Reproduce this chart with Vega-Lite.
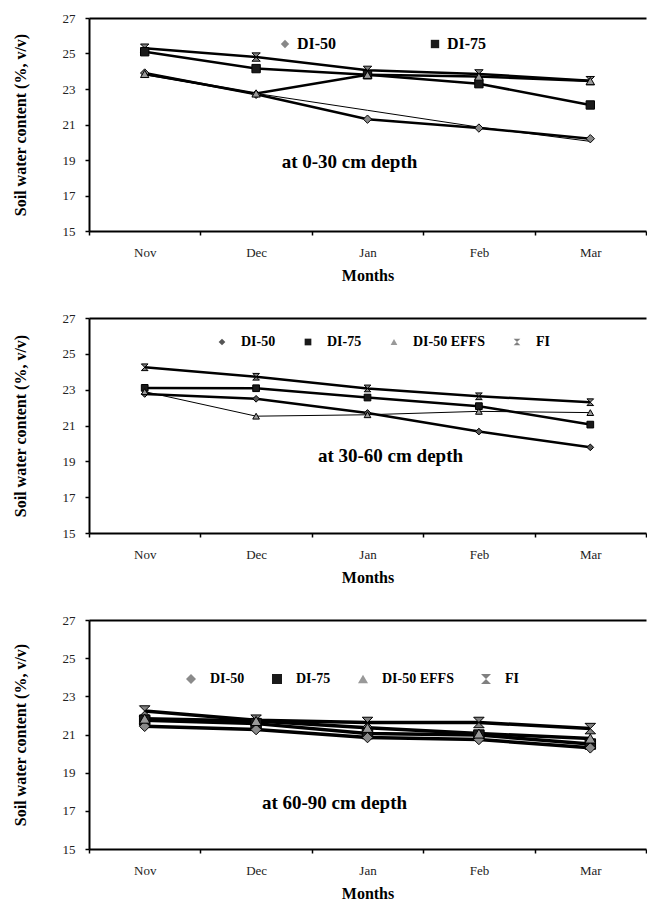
{
  "$schema": "https://vega.github.io/schema/vega-lite/v6.json",
  "padding": {"left": 12, "top": 12, "right": 0, "bottom": 0},
  "config": {
    "font": "Liberation Serif",
    "view": {"stroke": null},
    "axis": {
      "grid": false,
      "domainColor": "black",
      "domainWidth": 2,
      "tickColor": "black",
      "tickWidth": 1.5,
      "tickSize": 4,
      "labelFont": "Liberation Serif",
      "labelFontSize": 13,
      "labelColor": "#222222",
      "labelOverlap": false,
      "labelFlush": false,
      "titleFont": "Liberation Serif",
      "titleFontSize": 16,
      "titleFontWeight": "bold",
      "titleColor": "black"
    },
    "axisX": {"labelAngle": 0, "tickBand": "extent", "labelPadding": 11, "titlePadding": 8},
    "axisY": {"labelPadding": 10, "titlePadding": 34},
    "legend": {
      "labelFont": "Liberation Serif",
      "labelFontWeight": "bold",
      "labelColor": "black",
      "symbolStrokeColor": "black",
      "symbolStrokeWidth": 1
    }
  },
  "datasets": {
    "p1": [
      {"month": "Nov", "series": "FI", "value": 25.3},
      {"month": "Dec", "series": "FI", "value": 24.8},
      {"month": "Jan", "series": "FI", "value": 24.05},
      {"month": "Feb", "series": "FI", "value": 23.85},
      {"month": "Mar", "series": "FI", "value": 23.47},
      {"month": "Nov", "series": "DI-75", "value": 25.1},
      {"month": "Dec", "series": "DI-75", "value": 24.15},
      {"month": "Jan", "series": "DI-75", "value": 23.8},
      {"month": "Feb", "series": "DI-75", "value": 23.3},
      {"month": "Mar", "series": "DI-75", "value": 22.1},
      {"month": "Nov", "series": "DI-50", "value": 23.9},
      {"month": "Dec", "series": "DI-50", "value": 22.7},
      {"month": "Jan", "series": "DI-50", "value": 21.3},
      {"month": "Feb", "series": "DI-50", "value": 20.8},
      {"month": "Mar", "series": "DI-50", "value": 20.2},
      {"month": "Nov", "series": "DI-50 EFFS", "value": 23.85},
      {"month": "Dec", "series": "DI-50 EFFS", "value": 22.75},
      {"month": "Jan", "series": "DI-50 EFFS", "value": 23.8},
      {"month": "Feb", "series": "DI-50 EFFS", "value": 23.7},
      {"month": "Mar", "series": "DI-50 EFFS", "value": 23.45},
      {"month": "Nov", "series": "thin", "value": 23.8},
      {"month": "Dec", "series": "thin", "value": 22.75},
      {"month": "Jan", "series": "thin", "value": 21.8},
      {"month": "Feb", "series": "thin", "value": 20.85},
      {"month": "Mar", "series": "thin", "value": 20.05}
    ],
    "p2": [
      {"month": "Nov", "series": "FI", "value": 24.25},
      {"month": "Dec", "series": "FI", "value": 23.72},
      {"month": "Jan", "series": "FI", "value": 23.07},
      {"month": "Feb", "series": "FI", "value": 22.63},
      {"month": "Mar", "series": "FI", "value": 22.3},
      {"month": "Nov", "series": "DI-75", "value": 23.1},
      {"month": "Dec", "series": "DI-75", "value": 23.08},
      {"month": "Jan", "series": "DI-75", "value": 22.56},
      {"month": "Feb", "series": "DI-75", "value": 22.08},
      {"month": "Mar", "series": "DI-75", "value": 21.05},
      {"month": "Nov", "series": "DI-50", "value": 22.76},
      {"month": "Dec", "series": "DI-50", "value": 22.49},
      {"month": "Jan", "series": "DI-50", "value": 21.7},
      {"month": "Feb", "series": "DI-50", "value": 20.66},
      {"month": "Mar", "series": "DI-50", "value": 19.78},
      {"month": "Nov", "series": "DI-50 EFFS", "value": 22.89},
      {"month": "Dec", "series": "DI-50 EFFS", "value": 21.52},
      {"month": "Jan", "series": "DI-50 EFFS", "value": 21.6},
      {"month": "Feb", "series": "DI-50 EFFS", "value": 21.79},
      {"month": "Mar", "series": "DI-50 EFFS", "value": 21.72}
    ],
    "p3": [
      {"month": "Nov", "series": "FI", "value": 22.23},
      {"month": "Dec", "series": "FI", "value": 21.75},
      {"month": "Jan", "series": "FI", "value": 21.63},
      {"month": "Feb", "series": "FI", "value": 21.63},
      {"month": "Mar", "series": "FI", "value": 21.31},
      {"month": "Nov", "series": "DI-75", "value": 21.75},
      {"month": "Dec", "series": "DI-75", "value": 21.57},
      {"month": "Jan", "series": "DI-75", "value": 21.05},
      {"month": "Feb", "series": "DI-75", "value": 20.97},
      {"month": "Mar", "series": "DI-75", "value": 20.5},
      {"month": "Nov", "series": "DI-50", "value": 21.43},
      {"month": "Dec", "series": "DI-50", "value": 21.26},
      {"month": "Jan", "series": "DI-50", "value": 20.84},
      {"month": "Feb", "series": "DI-50", "value": 20.74},
      {"month": "Mar", "series": "DI-50", "value": 20.3},
      {"month": "Nov", "series": "DI-50 EFFS", "value": 21.83},
      {"month": "Dec", "series": "DI-50 EFFS", "value": 21.71},
      {"month": "Jan", "series": "DI-50 EFFS", "value": 21.35},
      {"month": "Feb", "series": "DI-50 EFFS", "value": 21.05},
      {"month": "Mar", "series": "DI-50 EFFS", "value": 20.79}
    ],
    "t1": [{"month": "Jan", "value": 18.9, "label": "at 0-30 cm depth"}],
    "t2": [{"month": "Jan", "value": 19.3, "label": "at 30-60 cm depth"}],
    "t3": [{"month": "Jan", "value": 17.4, "label": "at 60-90 cm depth"}]
  },
  "spacing": 87,
  "bounds": "flush",
  "resolve": {
    "scale": {"x": "independent", "y": "independent", "shape": "independent", "fill": "independent"},
    "legend": {"shape": "independent", "fill": "independent"}
  },
  "vconcat": [
    {
      "width": 557,
      "height": 213,
      "resolve": {"axis": {"x": "independent"}},
      "layer": [
        {
          "data": {"name": "p1"},
          "transform": [{"filter": "datum.series !== 'thin'"}],
          "mark": {"type": "line", "color": "black", "strokeWidth": 2.5},
          "encoding": {
            "x": {"field": "month", "type": "ordinal", "sort": ["Nov", "Dec", "Jan", "Feb", "Mar"], "bandPosition": 0.5, "scale": {"type": "band", "paddingInner": 0, "paddingOuter": 0}, "axis": {"title": "Months", "orient": "bottom"}},
            "y": {"field": "value", "type": "quantitative", "scale": {"domain": [15, 27], "nice": false, "zero": false}, "axis": {"values": [15, 17, 19, 21, 23, 25, 27], "title": "Soil water content (%, v/v)"}},
            "detail": {"field": "series"}
          }
        },
        {
          "data": {"name": "p1"},
          "transform": [{"filter": "datum.series === 'thin'"}],
          "mark": {"type": "line", "color": "black", "strokeWidth": 1},
          "encoding": {
            "x": {"field": "month", "type": "ordinal", "sort": ["Nov", "Dec", "Jan", "Feb", "Mar"], "bandPosition": 0.5, "axis": null},
            "y": {"field": "value", "type": "quantitative", "scale": {"domain": [15, 27], "nice": false, "zero": false}, "axis": {"values": [15, 17, 19, 21, 23, 25, 27], "title": "Soil water content (%, v/v)"}},
            "detail": {"field": "series"}
          }
        },
        {
          "data": {"name": "p1"},
          "transform": [{"filter": "datum.series !== 'thin'"}],
          "mark": {"type": "point", "filled": true, "size": 70, "stroke": "black", "strokeWidth": 1, "opacity": 1},
          "encoding": {
            "x": {"field": "month", "type": "ordinal", "sort": ["Nov", "Dec", "Jan", "Feb", "Mar"], "bandPosition": 0.5, "axis": null},
            "y": {"field": "value", "type": "quantitative", "scale": {"domain": [15, 27], "nice": false, "zero": false}, "axis": {"values": [15, 17, 19, 21, 23, 25, 27], "title": "Soil water content (%, v/v)"}},
            "shape": {"field": "series", "type": "nominal", "scale": {"domain": ["DI-50", "DI-75", "DI-50 EFFS", "FI"], "range": ["diamond", "square", "triangle-up", "M-1,-1H1L-1,1H1Z"]}, "legend": {"values": ["DI-50", "DI-75"], "orient": "none", "legendX": 188, "legendY": 18, "direction": "horizontal", "columns": 2, "columnPadding": 90, "labelFontSize": 16, "symbolSize": 70, "title": null}},
            "fill": {"field": "series", "type": "nominal", "scale": {"domain": ["DI-50", "DI-75", "DI-50 EFFS", "FI"], "range": ["#888888", "#1a1a1a", "#999999", "#808080"]}, "legend": {"values": ["DI-50", "DI-75"], "orient": "none", "legendX": 188, "legendY": 18, "direction": "horizontal", "columns": 2, "columnPadding": 90, "labelFontSize": 16, "symbolSize": 70, "title": null}}
          }
        },
        {
          "data": {"name": "t1"},
          "mark": {"type": "text", "fontSize": 19, "fontWeight": "bold", "font": "Liberation Serif", "dx": -18, "color": "black"},
          "encoding": {
            "x": {"field": "month", "type": "ordinal", "sort": ["Nov", "Dec", "Jan", "Feb", "Mar"], "bandPosition": 0.5, "axis": {"orient": "top", "labels": false, "ticks": false, "title": null}},
            "y": {"field": "value", "type": "quantitative", "scale": {"domain": [15, 27], "nice": false, "zero": false}, "axis": {"values": [15, 17, 19, 21, 23, 25, 27], "title": "Soil water content (%, v/v)"}},
            "text": {"field": "label"}
          }
        }
      ]
    },
    {
      "width": 557,
      "height": 215,
      "resolve": {"axis": {"x": "independent"}},
      "layer": [
        {
          "data": {"name": "p2"},
          "transform": [{"filter": "datum.series !== 'DI-50 EFFS'"}],
          "mark": {"type": "line", "color": "black", "strokeWidth": 2.5},
          "encoding": {
            "x": {"field": "month", "type": "ordinal", "sort": ["Nov", "Dec", "Jan", "Feb", "Mar"], "bandPosition": 0.5, "scale": {"type": "band", "paddingInner": 0, "paddingOuter": 0}, "axis": {"title": "Months", "orient": "bottom"}},
            "y": {"field": "value", "type": "quantitative", "scale": {"domain": [15, 27], "nice": false, "zero": false}, "axis": {"values": [15, 17, 19, 21, 23, 25, 27], "title": "Soil water content (%, v/v)"}},
            "detail": {"field": "series"}
          }
        },
        {
          "data": {"name": "p2"},
          "transform": [{"filter": "datum.series === 'DI-50 EFFS'"}],
          "mark": {"type": "line", "color": "black", "strokeWidth": 1},
          "encoding": {
            "x": {"field": "month", "type": "ordinal", "sort": ["Nov", "Dec", "Jan", "Feb", "Mar"], "bandPosition": 0.5, "axis": null},
            "y": {"field": "value", "type": "quantitative", "scale": {"domain": [15, 27], "nice": false, "zero": false}, "axis": {"values": [15, 17, 19, 21, 23, 25, 27], "title": "Soil water content (%, v/v)"}},
            "detail": {"field": "series"}
          }
        },
        {
          "data": {"name": "p2"},
          "mark": {"type": "point", "filled": true, "size": 45, "stroke": "black", "strokeWidth": 1, "opacity": 1},
          "encoding": {
            "x": {"field": "month", "type": "ordinal", "sort": ["Nov", "Dec", "Jan", "Feb", "Mar"], "bandPosition": 0.5, "axis": null},
            "y": {"field": "value", "type": "quantitative", "scale": {"domain": [15, 27], "nice": false, "zero": false}, "axis": {"values": [15, 17, 19, 21, 23, 25, 27], "title": "Soil water content (%, v/v)"}},
            "shape": {"field": "series", "type": "nominal", "scale": {"domain": ["DI-50", "DI-75", "DI-50 EFFS", "FI"], "range": ["diamond", "square", "triangle-up", "M-1,-1H1L-1,1H1Z"]}, "legend": {"orient": "none", "legendX": 126, "legendY": 17, "direction": "horizontal", "columns": 4, "columnPadding": 25, "labelFontSize": 14, "labelOffset": 12, "symbolSize": 45, "title": null}},
            "fill": {"field": "series", "type": "nominal", "scale": {"domain": ["DI-50", "DI-75", "DI-50 EFFS", "FI"], "range": ["#555555", "#1a1a1a", "#999999", "#808080"]}, "legend": {"orient": "none", "legendX": 126, "legendY": 17, "direction": "horizontal", "columns": 4, "columnPadding": 25, "labelFontSize": 14, "labelOffset": 12, "symbolSize": 45, "title": null}}
          }
        },
        {
          "data": {"name": "t2"},
          "mark": {"type": "text", "fontSize": 19, "fontWeight": "bold", "font": "Liberation Serif", "dx": 23, "color": "black"},
          "encoding": {
            "x": {"field": "month", "type": "ordinal", "sort": ["Nov", "Dec", "Jan", "Feb", "Mar"], "bandPosition": 0.5, "axis": {"orient": "top", "labels": false, "ticks": false, "title": null}},
            "y": {"field": "value", "type": "quantitative", "scale": {"domain": [15, 27], "nice": false, "zero": false}, "axis": {"values": [15, 17, 19, 21, 23, 25, 27], "title": "Soil water content (%, v/v)"}},
            "text": {"field": "label"}
          }
        }
      ]
    },
    {
      "width": 557,
      "height": 229,
      "resolve": {"axis": {"x": "independent"}},
      "layer": [
        {
          "data": {"name": "p3"},
          "mark": {"type": "line", "color": "black", "strokeWidth": 3.5},
          "encoding": {
            "x": {"field": "month", "type": "ordinal", "sort": ["Nov", "Dec", "Jan", "Feb", "Mar"], "bandPosition": 0.5, "scale": {"type": "band", "paddingInner": 0, "paddingOuter": 0}, "axis": {"title": "Months", "orient": "bottom"}},
            "y": {"field": "value", "type": "quantitative", "scale": {"domain": [15, 27], "nice": false, "zero": false}, "axis": {"values": [15, 17, 19, 21, 23, 25, 27], "title": "Soil water content (%, v/v)"}},
            "detail": {"field": "series"}
          }
        },
        {
          "data": {"name": "p3"},
          "mark": {"type": "point", "filled": true, "size": 110, "stroke": "black", "strokeWidth": 1, "opacity": 1},
          "encoding": {
            "x": {"field": "month", "type": "ordinal", "sort": ["Nov", "Dec", "Jan", "Feb", "Mar"], "bandPosition": 0.5, "axis": null},
            "y": {"field": "value", "type": "quantitative", "scale": {"domain": [15, 27], "nice": false, "zero": false}, "axis": {"values": [15, 17, 19, 21, 23, 25, 27], "title": "Soil water content (%, v/v)"}},
            "shape": {"field": "series", "type": "nominal", "scale": {"domain": ["DI-50", "DI-75", "DI-50 EFFS", "FI"], "range": ["diamond", "square", "triangle-up", "M-1,-1H1L-1,1H1Z"]}, "legend": {"orient": "none", "legendX": 95, "legendY": 52, "direction": "horizontal", "columns": 4, "columnPadding": 25, "labelFontSize": 14, "labelOffset": 12, "symbolSize": 100, "title": null}},
            "fill": {"field": "series", "type": "nominal", "scale": {"domain": ["DI-50", "DI-75", "DI-50 EFFS", "FI"], "range": ["#8a8a8a", "#1a1a1a", "#999999", "#808080"]}, "legend": {"orient": "none", "legendX": 95, "legendY": 52, "direction": "horizontal", "columns": 4, "columnPadding": 25, "labelFontSize": 14, "labelOffset": 12, "symbolSize": 100, "title": null}}
          }
        },
        {
          "data": {"name": "t3"},
          "mark": {"type": "text", "fontSize": 19, "fontWeight": "bold", "font": "Liberation Serif", "dx": -33, "color": "black"},
          "encoding": {
            "x": {"field": "month", "type": "ordinal", "sort": ["Nov", "Dec", "Jan", "Feb", "Mar"], "bandPosition": 0.5, "axis": {"orient": "top", "labels": false, "ticks": false, "title": null}},
            "y": {"field": "value", "type": "quantitative", "scale": {"domain": [15, 27], "nice": false, "zero": false}, "axis": {"values": [15, 17, 19, 21, 23, 25, 27], "title": "Soil water content (%, v/v)"}},
            "text": {"field": "label"}
          }
        }
      ]
    }
  ]
}
